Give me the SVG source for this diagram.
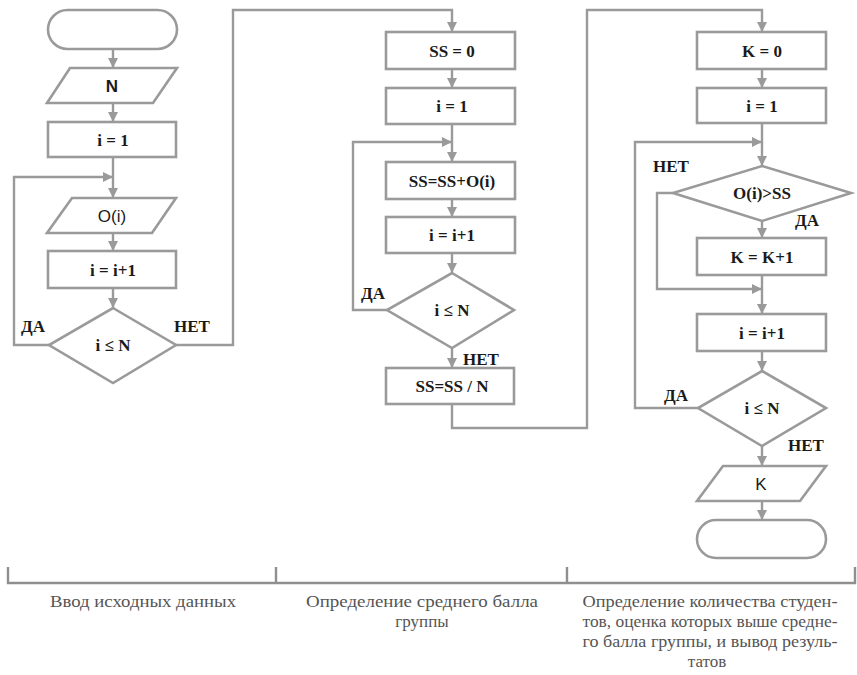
<svg xmlns="http://www.w3.org/2000/svg" width="857" height="675" viewBox="0 0 857 675">
  <style>
    .box { fill: #ffffff; stroke: #9a9a9a; stroke-width: 2.6; }
    .wire { fill: none; stroke: #9a9a9a; stroke-width: 2.4; }
    .t { font-family: 'Liberation Serif', 'DejaVu Serif', serif; font-weight: bold; font-size: 17px; fill: #1a1a1a; text-anchor: middle; }
    .s { font-family: 'Liberation Sans', Arial, sans-serif; font-size: 17px; fill: #1a1a1a; text-anchor: middle; }
    .lbl { font-family: 'Liberation Serif', 'DejaVu Serif', serif; font-weight: bold; font-size: 17px; fill: #1a1a1a; }
    .cap { font-family: 'Liberation Serif', 'DejaVu Serif', serif; font-size: 17px; fill: #555555; text-anchor: middle; }
    .brace { fill: none; stroke: #8f8f8f; stroke-width: 2.4; }
  </style>
  <defs>
    <marker id="arrow" markerUnits="userSpaceOnUse" markerWidth="11" markerHeight="11" refX="10" refY="5" orient="auto">
      <path d="M0,0 L10,5 L0,10 z" fill="#9a9a9a"/>
    </marker>
  </defs>

  <rect width="857" height="675" fill="#ffffff"/>

  <!-- connectors -->
  <g id="connectors" class="wire" marker-end="url(#arrow)">
    <!-- input section -->
    <path d="M113,49 V68"/>
    <path d="M113,103 V122"/>
    <path d="M113,157 V198"/>
    <path d="M49,345 H14 V177 H113"/>
    <path d="M113,233 V251"/>
    <path d="M113,288 V308"/>
    <path d="M176,345 H233 V10 H452 V32"/>
    <!-- average section -->
    <path d="M452,69 V88"/>
    <path d="M452,124 V162"/>
    <path d="M387,310 H353 V142 H452"/>
    <path d="M452,199 V217"/>
    <path d="M452,253 V273"/>
    <path d="M452,348 V368"/>
    <path d="M452,404 V428 H587 V10 H762 V32"/>
    <!-- count section -->
    <path d="M762,69 V88"/>
    <path d="M762,123 V166"/>
    <path d="M698,408 H635 V142 H762"/>
    <path d="M762,221 V238"/>
    <path d="M673,193 H657 V289 H762"/>
    <path d="M762,275 V314"/>
    <path d="M762,351 V371"/>
    <path d="M762,446 V466"/>
    <path d="M762,501 V520"/>
  </g>

  <!-- input section nodes -->
  <g id="start">
    <rect class="box" x="48" y="10" width="129" height="39" rx="19.5"/>
  </g>
  <g id="input-n">
    <polygon class="box" points="70,68 177,68 153,103 47,103"/>
    <text class="s" x="112" y="92" font-weight="bold">N</text>
  </g>
  <g id="init-i-1">
    <rect class="box" x="48" y="122" width="128" height="35"/>
    <text class="t" x="113" y="146">i = 1</text>
  </g>
  <g id="input-o">
    <polygon class="box" points="72,198 176,198 152,233 47,233"/>
    <text class="s" x="112" y="222">O(i)</text>
  </g>
  <g id="inc-i-1">
    <rect class="box" x="48" y="251" width="128" height="37"/>
    <text class="t" x="113" y="276">i = i+1</text>
  </g>
  <g id="cond-1">
    <polygon class="box" points="113,308 176,345 113,383 49,345"/>
    <text class="t" x="113" y="351">i ≤ N</text>
  </g>

  <!-- average section nodes -->
  <g id="ss-zero">
    <rect class="box" x="386" y="32" width="129" height="37"/>
    <text class="t" x="452" y="57">SS = 0</text>
  </g>
  <g id="init-i-2">
    <rect class="box" x="386" y="88" width="129" height="36"/>
    <text class="t" x="452" y="112">i = 1</text>
  </g>
  <g id="ss-add">
    <rect class="box" x="386" y="162" width="129" height="37"/>
    <text class="t" x="452" y="187" font-weight="normal">SS=SS+O(i)</text>
  </g>
  <g id="inc-i-2">
    <rect class="box" x="386" y="217" width="129" height="36"/>
    <text class="t" x="452" y="241">i = i+1</text>
  </g>
  <g id="cond-2">
    <polygon class="box" points="452,273 514,310 452,348 387,310"/>
    <text class="t" x="452" y="316">i ≤ N</text>
  </g>
  <g id="ss-div">
    <rect class="box" x="386" y="368" width="128" height="36"/>
    <text class="t" x="452" y="392">SS=SS / N</text>
  </g>

  <!-- count section nodes -->
  <g id="k-zero">
    <rect class="box" x="697" y="32" width="129" height="37"/>
    <text class="t" x="762" y="57">K = 0</text>
  </g>
  <g id="init-i-3">
    <rect class="box" x="697" y="88" width="129" height="35"/>
    <text class="t" x="762" y="112">i = 1</text>
  </g>
  <g id="cond-o">
    <polygon class="box" points="762,166 851,193 762,221 673,193"/>
    <text class="t" x="762" y="199" font-weight="normal">O(i)&gt;SS</text>
  </g>
  <g id="k-inc">
    <rect class="box" x="697" y="238" width="129" height="37"/>
    <text class="t" x="762" y="263">K = K+1</text>
  </g>
  <g id="inc-i-3">
    <rect class="box" x="697" y="314" width="129" height="37"/>
    <text class="t" x="762" y="339">i = i+1</text>
  </g>
  <g id="cond-3">
    <polygon class="box" points="762,371 826,408 762,446 698,408"/>
    <text class="t" x="762" y="414">i ≤ N</text>
  </g>
  <g id="output-k">
    <polygon class="box" points="723,466 826,466 800,501 697,501"/>
    <text class="s" x="761" y="490">K</text>
  </g>
  <g id="end">
    <rect class="box" x="697" y="520" width="129" height="38" rx="19"/>
  </g>

  <!-- branch labels -->
  <g id="branch-labels" class="lbl">
    <text x="21" y="332">ДА</text>
    <text x="174" y="332">НЕТ</text>
    <text x="361" y="299">ДА</text>
    <text x="463" y="365">НЕТ</text>
    <text x="653" y="172">НЕТ</text>
    <text x="795" y="226">ДА</text>
    <text x="664" y="401">ДА</text>
    <text x="788" y="451">НЕТ</text>
  </g>

  <!-- section bracket and captions -->
  <g id="sections">
    <path class="brace" d="M8,567 V583 H855 V567 M276,567 V583 M567,567 V583"/>
    <text class="cap" x="143" y="607" textLength="186" lengthAdjust="spacingAndGlyphs">Ввод исходных данных</text>
    <text class="cap" x="422" y="607" textLength="232" lengthAdjust="spacingAndGlyphs">Определение среднего балла</text>
    <text class="cap" x="422" y="627">группы</text>
    <text class="cap" x="710" y="607" textLength="255" lengthAdjust="spacingAndGlyphs">Определение количества студен-</text>
    <text class="cap" x="710" y="627" textLength="255" lengthAdjust="spacingAndGlyphs">тов, оценка которых выше средне-</text>
    <text class="cap" x="710" y="647" textLength="255" lengthAdjust="spacingAndGlyphs">го балла группы, и вывод резуль-</text>
    <text class="cap" x="707" y="667">татов</text>
  </g>
</svg>
